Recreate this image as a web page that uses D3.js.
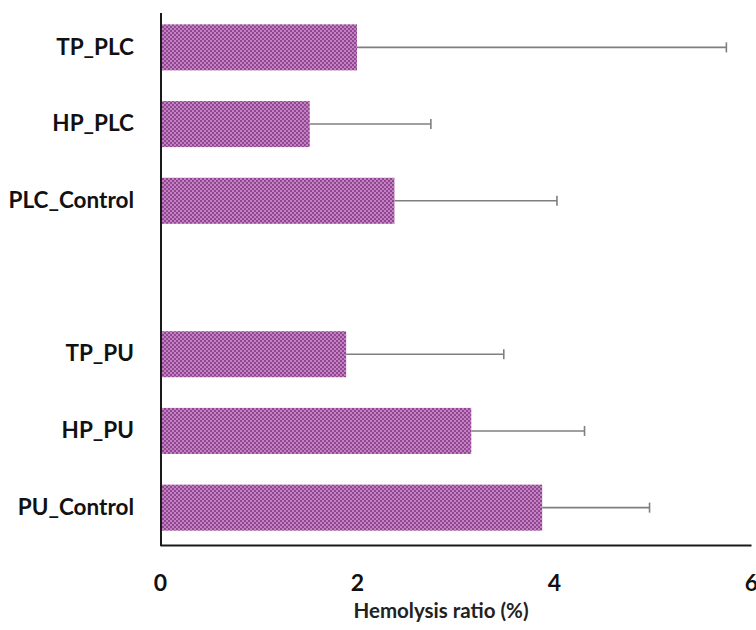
<!DOCTYPE html>
<html><head><meta charset="utf-8">
<script src="https://cdn.jsdelivr.net/npm/d3@7"></script>
<style>body{margin:0;background:#fff}svg{display:block}</style>
</head><body>
<script>
const categories = ["TP_PLC","HP_PLC","PLC_Control","","TP_PU","HP_PU","PU_Control"];
const values =     [2.0, 1.52, 2.38, null, 1.89, 3.16, 3.88];
const errors =     [3.75, 1.23, 1.65, null, 1.60, 1.15, 1.09];
const xTicks = [0, 2, 4, 6];
const xTitle = "Hemolysis ratio (%)";

const W = 756, H = 630;
const svg = d3.select("body").append("svg").attr("width", W).attr("height", H);
const defs = svg.append("defs");
const pat = defs.append("pattern").attr("id","dots").attr("patternUnits","userSpaceOnUse")
  .attr("width",4).attr("height",4);
pat.append("rect").attr("width",4).attr("height",4).attr("fill","#c67fc6");
pat.append("rect").attr("x",0).attr("y",0).attr("width",2).attr("height",2).attr("fill","#8c4a8c");
pat.append("rect").attr("x",2).attr("y",2).attr("width",2).attr("height",2).attr("fill","#8c4a8c");

const x = d3.scaleLinear().domain([0,6]).range([160, 751]);
const y = d3.scaleBand().domain(categories).range([9, 546]).paddingInner(0.4).paddingOuter(0.2);

const data = categories.map((c,i)=>({c, v: values[i], e: errors[i]})).filter(d=>d.v!=null);

// bars
svg.selectAll("rect.bar").data(data).join("rect").attr("class","bar")
  .attr("x", x(0)).attr("y", d=>y(d.c)).attr("width", d=>x(d.v)-x(0)).attr("height", y.bandwidth())
  .attr("fill","url(#dots)");

// error bars
const eg = svg.selectAll("g.err").data(data).join("g").attr("class","err");
eg.append("line").attr("x1", d=>x(d.v)).attr("x2", d=>x(d.v+d.e))
  .attr("y1", d=>y(d.c)+y.bandwidth()/2).attr("y2", d=>y(d.c)+y.bandwidth()/2)
  .attr("stroke","#7f7f7f").attr("stroke-width",1.6);
eg.append("line").attr("x1", d=>x(d.v+d.e)).attr("x2", d=>x(d.v+d.e))
  .attr("y1", d=>y(d.c)+y.bandwidth()/2-5).attr("y2", d=>y(d.c)+y.bandwidth()/2+5)
  .attr("stroke","#7f7f7f").attr("stroke-width",1.6);

// axes
const font = "Lato, 'Open Sans', sans-serif";
const xAxis = d3.axisBottom(x).tickValues(xTicks).tickSize(0).tickPadding(30).tickFormat(d3.format("d"));
const gx = svg.append("g").attr("transform","translate(0,545)").call(xAxis);
gx.select(".domain").attr("stroke","#1a1a1a").attr("stroke-width",2);
gx.selectAll("text").attr("font-family",font).attr("font-weight","bold")
  .attr("font-size",23).attr("fill","#111");

const yAxis = d3.axisLeft(y).tickSize(0).tickPadding(27);
const gy = svg.append("g").attr("transform","translate(161,0)").call(yAxis);
gy.select(".domain").attr("stroke","#1a1a1a").attr("stroke-width",2).attr("d","M0,13V546");
gy.selectAll("text").attr("font-family",font).attr("font-weight","bold")
  .attr("font-size",22.5).attr("fill","#111");

svg.append("text").attr("x", 441).attr("y", 618).attr("text-anchor","middle")
  .attr("font-family",font).attr("font-weight","bold").attr("font-size",20.5)
  .attr("fill","#222").text(xTitle);
</script>
</body></html>
